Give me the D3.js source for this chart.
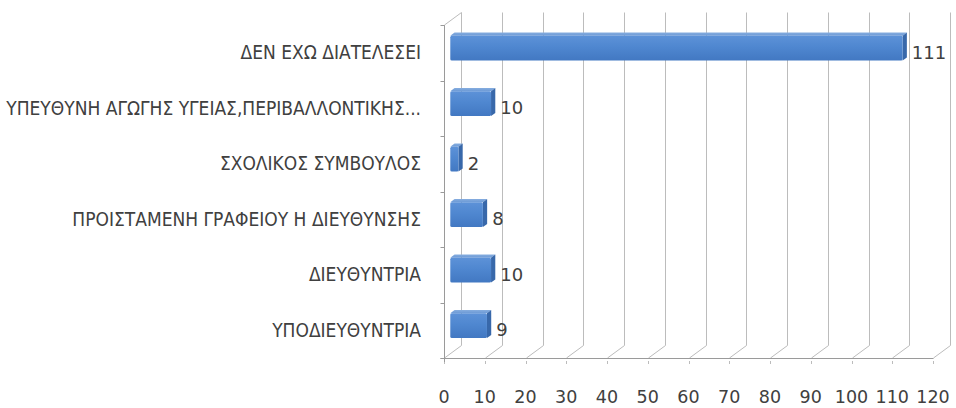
<!DOCTYPE html>
<html>
<head>
<meta charset="utf-8">
<script src="https://cdn.jsdelivr.net/npm/d3@7"></script>
<style>
  html, body { margin: 0; padding: 0; background: #ffffff; }
  svg { display: block; }
</style>
</head>
<body>
<svg id="chart" width="956" height="408"></svg>
<script>
// Categories, top to bottom
const categories = [
  "ΔΕΝ ΕΧΩ ΔΙΑΤΕΛΕΣΕΙ",
  "ΥΠΕΥΘΥΝΗ ΑΓΩΓΗΣ ΥΓΕΙΑΣ,ΠΕΡΙΒΑΛΛΟΝΤΙΚΗΣ...",
  "ΣΧΟΛΙΚΟΣ ΣΥΜΒΟΥΛΟΣ",
  "ΠΡΟΙΣΤΑΜΕΝΗ ΓΡΑΦΕΙΟΥ Η ΔΙΕΥΘΥΝΣΗΣ",
  "ΔΙΕΥΘΥΝΤΡΙΑ",
  "ΥΠΟΔΙΕΥΘΥΝΤΡΙΑ"
];
const values = [111, 10, 2, 8, 10, 9];
const xTicks = [0, 10, 20, 30, 40, 50, 60, 70, 80, 90, 100, 110, 120];

const svg = d3.select("#chart");

// Front plane of the 3D box and the depth offset toward the back wall
const plot = { left: 444, right: 933, top: 25, bottom: 358 };
const depth = { dx: 17, dy: -12.5 };
const off = d => [depth.dx * d, depth.dy * d];

const x = d3.scaleLinear().domain([0, 120]).range([plot.left, plot.right]);
const y = d3.scaleBand().domain(categories).range([plot.top, plot.bottom])
  .paddingInner(0.55).paddingOuter(0.275);
const yCat = d3.scaleBand().domain(categories).range([plot.top, plot.bottom]);

const gridColor = "#bcbcbc";
const textColor = "#404040";
const labelFont = "'DejaVu Sans Condensed', 'DejaVu Sans', sans-serif";
const numberFont = "'DejaVu Sans', 'Liberation Sans', sans-serif";

// Back wall gridlines and floor diagonals
const grid = svg.append("g").attr("stroke", gridColor).attr("stroke-width", 1).attr("fill", "none");
const [bdx, bdy] = off(1);
xTicks.forEach(t => {
  const xf = Math.round(x(t)) + 0.5;
  grid.append("line")
    .attr("x1", xf + bdx).attr("x2", xf + bdx)
    .attr("y1", plot.top + bdy).attr("y2", plot.bottom + bdy);
  grid.append("line")
    .attr("x1", xf + bdx).attr("y1", plot.bottom + bdy)
    .attr("x2", xf).attr("y2", plot.bottom);
  // small tick under the front floor edge
  grid.append("line")
    .attr("x1", xf).attr("x2", xf)
    .attr("y1", plot.bottom + 3).attr("y2", plot.bottom + 6);
});

// Front floor edge and front-left edge
const axisColor = "#9a9a9a";
const xl = Math.round(x(0)) + 0.5;
svg.append("line")
  .attr("x1", xl - 4).attr("x2", Math.round(x(120)) + 0.5)
  .attr("y1", plot.bottom + 0.5).attr("y2", plot.bottom + 0.5)
  .attr("stroke", axisColor);
svg.append("line")
  .attr("x1", xl).attr("x2", xl)
  .attr("y1", plot.top).attr("y2", plot.bottom + 4)
  .attr("stroke", axisColor);
svg.append("line")
  .attr("x1", xl).attr("y1", plot.top)
  .attr("x2", xl + bdx).attr("y2", plot.top + bdy)
  .attr("stroke", gridColor);

// Category boundary ticks on the left edge
const bounds = categories.map(c => yCat(c)).concat([plot.bottom]);
svg.append("g").selectAll("line").data(bounds).join("line")
  .attr("x1", xl - 4).attr("x2", xl)
  .attr("y1", d => Math.round(d) + 0.5).attr("y2", d => Math.round(d) + 0.5)
  .attr("stroke", axisColor);

// Gradients for the bar faces
const defs = svg.append("defs");
const gFront = defs.append("linearGradient").attr("id", "front").attr("x1", 0).attr("y1", 0).attr("x2", 0).attr("y2", 1);
gFront.append("stop").attr("offset", "0%").attr("stop-color", "#5d92d8");
gFront.append("stop").attr("offset", "45%").attr("stop-color", "#4f87d0");
gFront.append("stop").attr("offset", "100%").attr("stop-color", "#4278c2");
const gTop = defs.append("linearGradient").attr("id", "topface").attr("x1", 0).attr("y1", 0).attr("x2", 0).attr("y2", 1);
gTop.append("stop").attr("offset", "0%").attr("stop-color", "#86addf");
gTop.append("stop").attr("offset", "100%").attr("stop-color", "#6c9ad6");

// Bars: front, top and right faces
const dFront = 0.37, dBack = 0.62;
const [fdx, fdy] = off(dFront);
const [kdx, kdy] = off(dBack);
const bars = svg.append("g").selectAll("g").data(categories).join("g");
bars.each(function (c, i) {
  const g = d3.select(this);
  const x0 = x(0), x1 = x(values[i]);
  const y0 = y(c), y1 = y(c) + y.bandwidth();
  // top face
  g.append("path")
    .attr("d", `M${x0 + fdx},${y0 + fdy}L${x1 + fdx},${y0 + fdy}L${x1 + kdx},${y0 + kdy}L${x0 + kdx},${y0 + kdy}Z`)
    .attr("fill", "url(#topface)");
  // right face
  g.append("path")
    .attr("d", `M${x1 + fdx},${y0 + fdy}L${x1 + kdx},${y0 + kdy}L${x1 + kdx},${y1 + kdy}L${x1 + fdx},${y1 + fdy}Z`)
    .attr("fill", "#3868aa");
  // front face
  g.append("rect")
    .attr("x", x0 + fdx).attr("y", y0 + fdy)
    .attr("width", x1 - x0).attr("height", y1 - y0)
    .attr("rx", 1.5)
    .attr("fill", "url(#front)");
});

// Value labels
svg.append("g").selectAll("text").data(categories).join("text")
  .attr("x", (c, i) => x(values[i]) + kdx + 5)
  .attr("y", c => yCat(c) + yCat.bandwidth() / 2 + 1)
  .attr("dominant-baseline", "middle")
  .attr("font-family", numberFont)
  .attr("font-size", 18)
  .attr("fill", textColor)
  .text((c, i) => values[i]);

// Category labels
svg.append("g").selectAll("text").data(categories).join("text")
  .attr("x", 421)
  .attr("y", c => yCat(c) + yCat.bandwidth() / 2 + 1)
  .attr("text-anchor", "end")
  .attr("dominant-baseline", "middle")
  .attr("font-family", labelFont)
  .attr("font-size", 19)
  .attr("fill", textColor)
  .text(d => d);

// Value axis tick labels
svg.append("g").selectAll("text").data(xTicks).join("text")
  .attr("x", d => x(d))
  .attr("y", 398)
  .attr("text-anchor", "middle")
  .attr("dominant-baseline", "middle")
  .attr("font-family", numberFont)
  .attr("font-size", 17.5)
  .attr("fill", textColor)
  .text(d => d);
</script>
</body>
</html>
